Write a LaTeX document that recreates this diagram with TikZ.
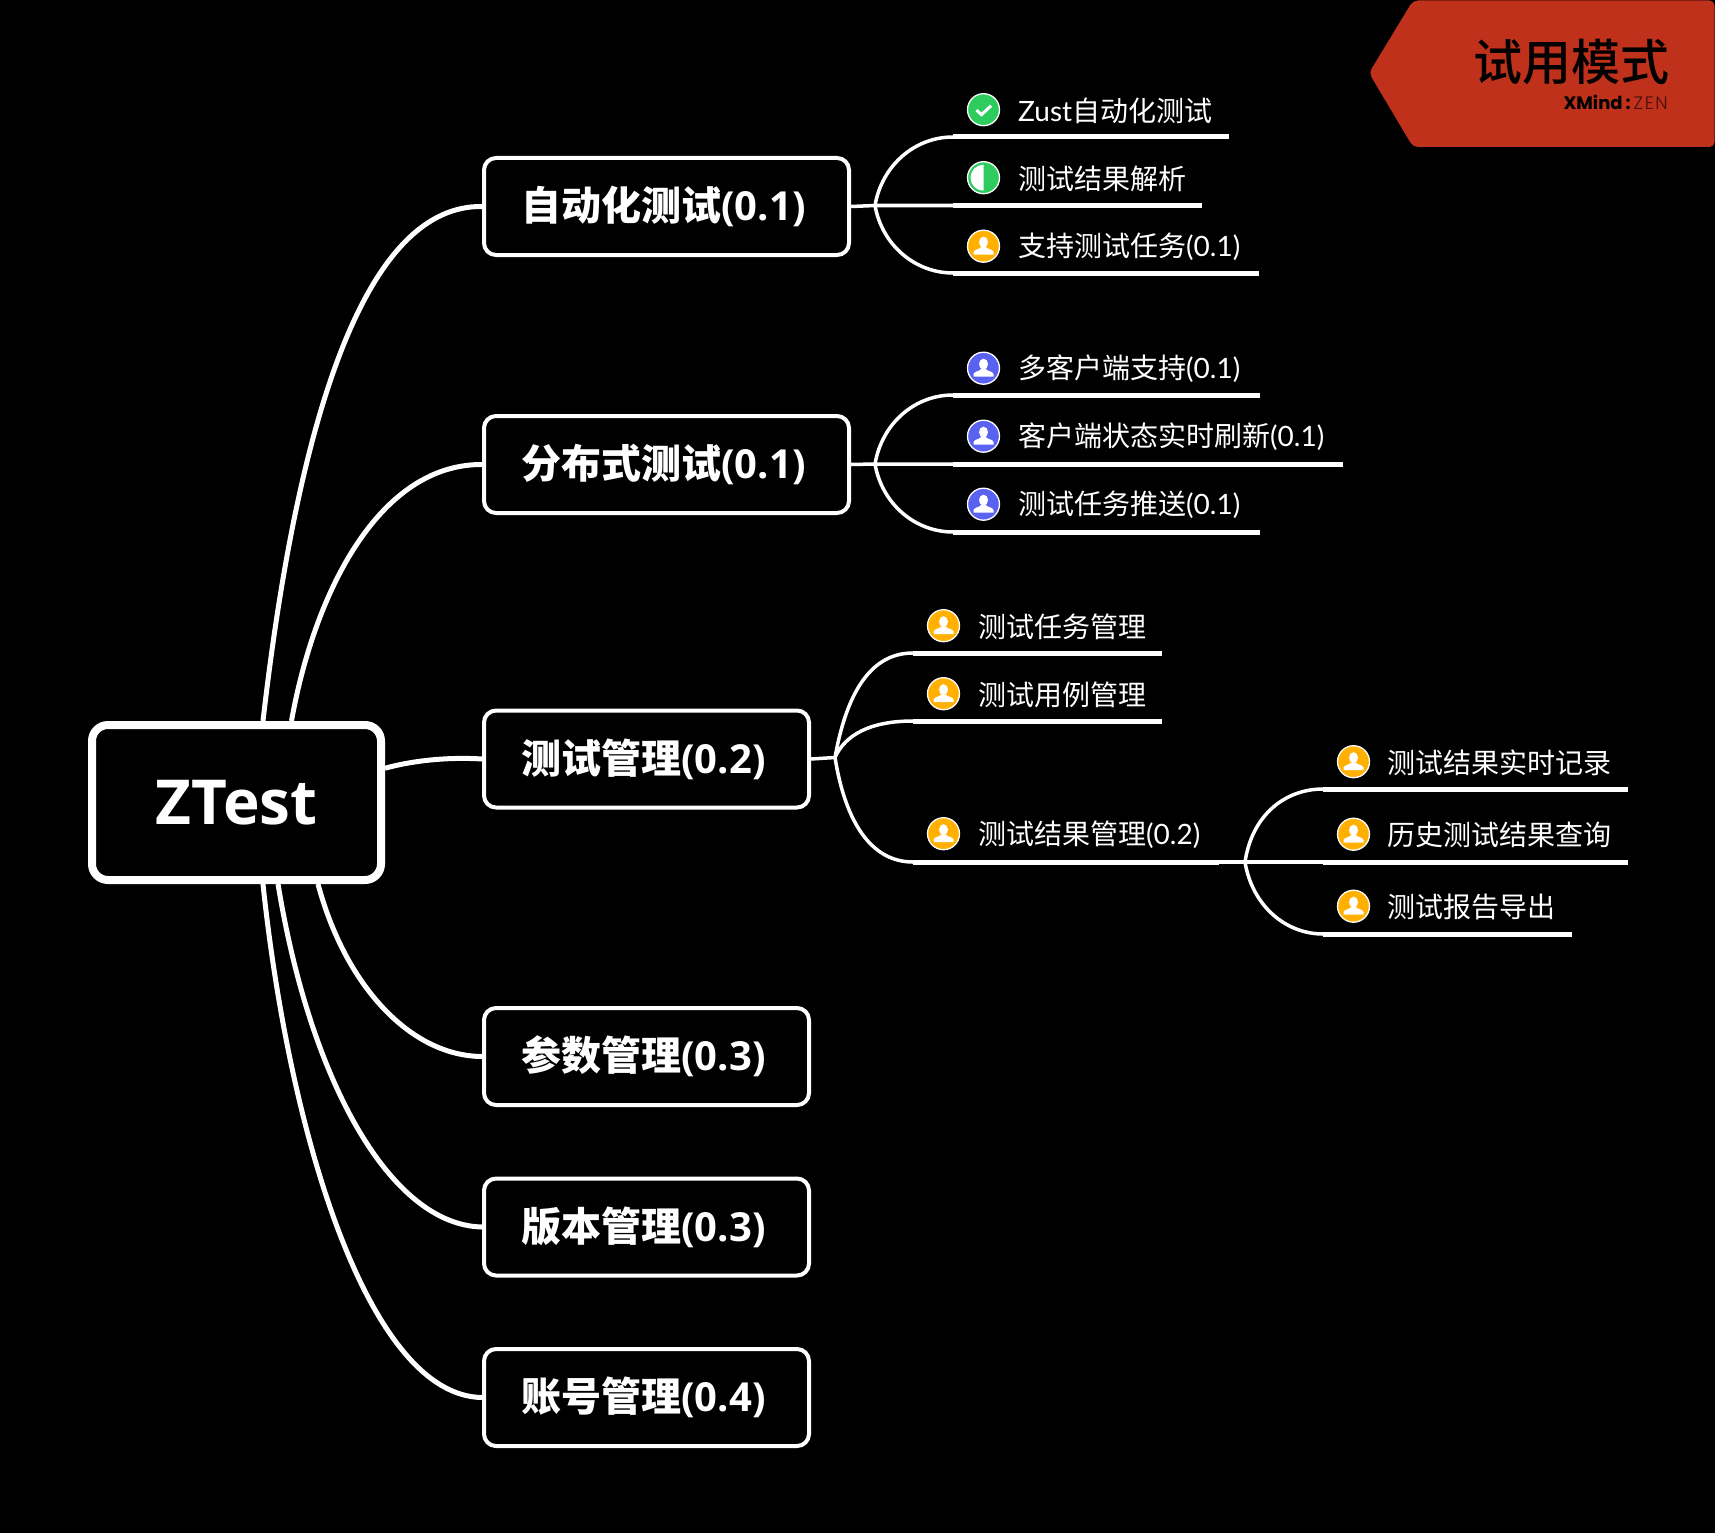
\documentclass[tikz,border=0pt]{standalone}
\usepackage{fontspec}
\setmainfont{Lato}
\newfontfamily\heavy{Open Sans}
\newfontfamily\brandfont{Poppins}
\newfontfamily\thinfont{Poppins Light}[LetterSpace=9]
\newfontfamily\cjk{Noto Sans CJK SC}
\newfontfamily\cjkmedium{Noto Sans CJK SC Medium}
\usetikzlibrary{positioning}
\definecolor{banner}{HTML}{C0311C}
\definecolor{amber}{HTML}{FFB000}
\definecolor{leaf}{HTML}{2ECC5F}
\definecolor{iris}{HTML}{5A63F0}
\tikzset{
  rootbox/.style={rectangle,draw=white,fill=black,line width=8,rounded corners=16,minimum width=289,minimum height=155,text=white,font=\fontsize{62}{70}\selectfont\heavy\bfseries},
  mainbox/.style={rectangle,draw=white,fill=black,line width=4,rounded corners=12,minimum height=97,text=white,execute at end node=\kern6pt,font=\fontsize{40}{46}\selectfont\heavy\bfseries},
  bar/.style={rectangle,fill=white,inner sep=0,outer sep=0,minimum height=5,anchor=west},
  label/.style={anchor=west,inner sep=0,yshift=-0.7pt,text=white,font=\fontsize{28}{32}\selectfont},
  link/.style={draw=white,line width=5},
  branch/.style={draw=white,line width=3.5},
  badge/.style={circle,draw=white,line width=1.3,minimum size=32,inner sep=0,xshift=0.5pt,yshift=-0.7pt,fill=#1},
  person/.style={badge=#1,path picture={
    \begin{scope}[shift={(path picture bounding box.center)}]
      \fill[white] (0,-4) ellipse [x radius=4.5,y radius=5.5];
      \fill[white] (-10,8.5) -- (-10,6) .. controls (-10,3.5) and (-4,3) .. (-2.5,1) -- (2.5,1) .. controls (4,3) and (10,3.5) .. (10,6) -- (10,8.5) -- cycle;
    \end{scope}}},
  tickbadge/.style={badge=leaf,path picture={
    \begin{scope}[shift={(path picture bounding box.center)}]
      \draw[white,line width=3] (-7,0.5) -- (-2,5) -- (7.5,-4);
    \end{scope}}},
  halfbadge/.style={badge=leaf,path picture={
    \begin{scope}[shift={(path picture bounding box.center)}]
      \fill[white] (0,-13) arc [start angle=270,end angle=90,radius=13] -- cycle;
    \end{scope}}}
}
\begin{document}
\begin{tikzpicture}[x=1pt,y=-1pt]
\useasboundingbox (0,0) rectangle (1715,1533);
\fill[black] (0,0) rectangle (1715,1533);

% Trial banner
\fill[banner,rounded corners=5] (1413,0.5) -- (1714.5,0.5) -- (1714.5,147) -- (1413,147) -- (1369,73) -- cycle;
\node[anchor=east,inner sep=0,text=black,font=\fontsize{49}{54}\selectfont\cjkmedium] (trial) at (1670,62) {试用模式};
\node[anchor=east,inner sep=0,font=\fontsize{18}{22}\selectfont\brandfont] (brand) at (1668,102) {\textcolor{black}{\bfseries XMind\,:}\textcolor{black!65!banner}{\,\thinfont ZEN}};

% Root
\node[rootbox] (root) at (236.5,802.5) {ZTest};

% Main topics
\node[mainbox,minimum width=365] (auto) at (666.5,206.5) {{\cjk\bfseries 自动化测试}(0.1)};
\node[mainbox,minimum width=365] (dist) at (666.5,464.5) {{\cjk\bfseries 分布式测试}(0.1)};
\node[mainbox,minimum width=325] (mgmt) at (646.5,759) {{\cjk\bfseries 测试管理}(0.2)};
\node[mainbox,minimum width=325] (para) at (646.5,1056.5) {{\cjk\bfseries 参数管理}(0.3)};
\node[mainbox,minimum width=325] (vers) at (646.5,1227) {{\cjk\bfseries 版本管理}(0.3)};
\node[mainbox,minimum width=325] (acct) at (646.5,1397.5) {{\cjk\bfseries 账号管理}(0.4)};

% Root links
\draw[link] (root.72.5) .. controls (300,400) and (370,205) .. (auto.west);
\draw[link] (root.56) .. controls (315,590) and (380,464) .. (dist.west);
\draw[link] (root.13.1) .. controls (415,760) and (450,757) .. (mgmt.west);
\draw[link] (root.-45.3) .. controls (345,985) and (410,1056) .. (para.west);
\draw[link] (root.-63) .. controls (310,1080) and (390,1225) .. (vers.west);
\draw[link] (root.-72) .. controls (290,1140) and (370,1396) .. (acct.west);

% Forks
\coordinate (forkA) at (875,205.5);
\coordinate (forkB) at (875,464);
\coordinate (forkC) at (835,757.5);
\coordinate (forkD) at (1245,862);

% Automation group
\node[bar,minimum width=276] (barA1) at (953,137) {};
\node[bar,minimum width=249] (barA2) at (953,205.5) {};
\node[bar,minimum width=306] (barA3) at (953,273) {};
\node[tickbadge] (iconA1) at (983,109) {};
\node[halfbadge] (iconA2) at (983,177) {};
\node[person=amber] (iconA3) at (983,245.5) {};
\node[label] (textA1) at (1018,110) {Zust{\cjk 自动化测试}};
\node[label] (textA2) at (1018,178) {\cjk 测试结果解析};
\node[label] (textA3) at (1018,246) {{\cjk 支持测试任务}(0.1)};
\draw[branch] (auto.east) -- (forkA) -- (barA2.west);
\draw[branch] (forkA) .. controls (882,165) and (915,137) .. (barA1.west);
\draw[branch] (forkA) .. controls (882,245) and (915,273) .. (barA3.west);

% Distributed group
\node[bar,minimum width=307] (barB1) at (953,395) {};
\node[bar,minimum width=390] (barB2) at (953,464) {};
\node[bar,minimum width=307] (barB3) at (953,532) {};
\node[person=iris] (iconB1) at (983,367.5) {};
\node[person=iris] (iconB2) at (983,435.5) {};
\node[person=iris] (iconB3) at (983,503.5) {};
\node[label] (textB1) at (1018,368) {{\cjk 多客户端支持}(0.1)};
\node[label] (textB2) at (1018,436) {{\cjk 客户端状态实时刷新}(0.1)};
\node[label] (textB3) at (1018,504) {{\cjk 测试任务推送}(0.1)};
\draw[branch] (dist.east) -- (forkB) -- (barB2.west);
\draw[branch] (forkB) .. controls (882,423) and (915,395) .. (barB1.west);
\draw[branch] (forkB) .. controls (882,504) and (915,532) .. (barB3.west);

% Test management group
\node[bar,minimum width=249] (barC1) at (913,653) {};
\node[bar,minimum width=249] (barC2) at (913,721) {};
\node[bar,minimum width=306] (barC3) at (913,862) {};
\node[person=amber] (iconC1) at (943,625) {};
\node[person=amber] (iconC2) at (943,693) {};
\node[person=amber] (iconC3) at (943,833) {};
\node[label] (textC1) at (978,626) {\cjk 测试任务管理};
\node[label] (textC2) at (978,694) {\cjk 测试用例管理};
\node[label] (textC3) at (978,834) {{\cjk 测试结果管理}(0.2)};
\draw[branch] (mgmt.east) -- (forkC);
\draw[branch] (forkC) .. controls (848,685) and (875,653) .. (barC1.west);
\draw[branch] (forkC) .. controls (845,735) and (870,721) .. (barC2.west);
\draw[branch] (forkC) .. controls (845,820) and (870,862) .. (barC3.west);

% Result management group
\node[bar,minimum width=305] (barD1) at (1323,789) {};
\node[bar,minimum width=305] (barD2) at (1323,862) {};
\node[bar,minimum width=249] (barD3) at (1323,934) {};
\node[person=amber] (iconD1) at (1353,761) {};
\node[person=amber] (iconD2) at (1353,833.5) {};
\node[person=amber] (iconD3) at (1353,905.5) {};
\node[label] (textD1) at (1387,762) {\cjk 测试结果实时记录};
\node[label] (textD2) at (1387,834) {\cjk 历史测试结果查询};
\node[label] (textD3) at (1387,906) {\cjk 测试报告导出};
\draw[branch] (barC3.east) -- (forkD) -- (barD2.west);
\draw[branch] (forkD) .. controls (1252,815) and (1285,789) .. (barD1.west);
\draw[branch] (forkD) .. controls (1252,905) and (1285,934) .. (barD3.west);
\end{tikzpicture}
\end{document}
